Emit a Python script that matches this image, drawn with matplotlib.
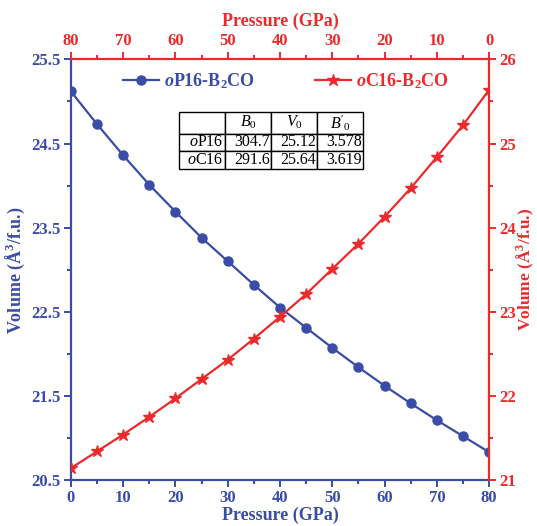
import matplotlib
matplotlib.use('Agg')
import matplotlib.pyplot as plt
from matplotlib.ticker import MultipleLocator

plt.rcParams['font.family'] = 'Liberation Serif'
plt.rcParams['font.weight'] = 'bold'
plt.rcParams['axes.labelweight'] = 'bold'
plt.rcParams['mathtext.fontset'] = 'custom'
plt.rcParams['mathtext.rm'] = 'Liberation Serif:normal'
plt.rcParams['mathtext.it'] = 'Liberation Serif:italic:normal'
plt.rcParams['mathtext.bf'] = 'Liberation Serif:bold'
plt.rcParams['mathtext.bfit'] = 'Liberation Serif:bold:italic'

# pressure points (GPa)
pressure = [0, 5, 10, 15, 20, 25, 30, 35, 40, 45, 50, 55, 60, 65, 70, 75, 80]
# volumes (A^3/f.u.)
vol_op16 = [25.12, 24.73, 24.36, 24.01, 23.69, 23.38, 23.10, 22.82, 22.55,
            22.31, 22.07, 21.84, 21.62, 21.41, 21.21, 21.02, 20.83]
vol_oc16 = [25.64, 25.22, 24.84, 24.47, 24.13, 23.81, 23.51, 23.21, 22.94,
            22.68, 22.43, 22.20, 21.97, 21.75, 21.54, 21.34, 21.14]

lab_op16 = r'$\mathbfit{o}$P16-B$_\mathbf{2}$CO'
lab_oc16 = r'$\mathbfit{o}$C16-B$_\mathbf{2}$CO'

# EOS fit table
tab_cols = ['', '$B_0$', '$V_0$', "$B'_0$"]
tab_rows = [r'$\mathit{o}$P16', r'$\mathit{o}$C16']
tab_b0 = ['304.7', '291.6']
tab_v0 = ['25.12', '25.64']
tab_b0p = ['3.578', '3.619']

blue = '#3A4CA6'
red = '#EC2A2C'

fig = plt.figure(figsize=(5.37, 5.26), dpi=100)
rect = [0.132, 0.0875, 0.779, 0.7995]
ax = fig.add_axes(rect)
ax2 = fig.add_axes(rect)
ax2.patch.set_visible(False)

l1, = ax.plot(pressure, vol_op16, '-o', color=blue, lw=1.6, ms=6.5, label=lab_op16)
l2, = ax2.plot(pressure, vol_oc16, '-*', color=red, lw=1.6, ms=9, label=lab_oc16)

# bottom / left (blue)
ax.set_xlim(0, 80)
ax.set_ylim(20.5, 25.5)
ax.xaxis.set_major_locator(MultipleLocator(10))
ax.xaxis.set_minor_locator(MultipleLocator(5))
ax.set_yticks([20.5, 21.5, 22.5, 23.5, 24.5, 25.5])
ax.set_yticks([21, 22, 23, 24, 25], minor=True)
ax.spines['top'].set_visible(False)
ax.spines['right'].set_visible(False)
for s in ['left', 'bottom']:
    ax.spines[s].set_color(blue)
    ax.spines[s].set_linewidth(1.6)
ax.tick_params(which='both', direction='out', colors=blue, width=1.4, labelsize=12, pad=2.5)
ax.tick_params(which='major', length=5)
ax.tick_params(which='minor', length=3)
ax.set_xlabel('Pressure (GPa)', color=blue, fontsize=13, labelpad=0)
ax.set_ylabel('Volume (Å$^\\mathbf{3}$/f.u.)', color=blue, fontsize=13, labelpad=3)

# top / right (red)
ax2.set_xlim(80, 0)
ax2.set_ylim(21, 26)
ax2.xaxis.tick_top()
ax2.xaxis.set_label_position('top')
ax2.yaxis.tick_right()
ax2.yaxis.set_label_position('right')
ax2.xaxis.set_major_locator(MultipleLocator(10))
ax2.xaxis.set_minor_locator(MultipleLocator(5))
ax2.yaxis.set_major_locator(MultipleLocator(1))
ax2.yaxis.set_minor_locator(MultipleLocator(0.5))
ax2.spines['left'].set_visible(False)
ax2.spines['bottom'].set_visible(False)
for s in ['top', 'right']:
    ax2.spines[s].set_color(red)
    ax2.spines[s].set_linewidth(1.6)
ax2.tick_params(which='both', direction='out', colors=red, width=1.4, labelsize=12, pad=2.5)
ax2.tick_params(which='major', length=5)
ax2.tick_params(which='minor', length=3)
ax2.set_xlabel('Pressure (GPa)', color=red, fontsize=13, labelpad=5)
ax2.set_ylabel('Volume (Å$^\\mathbf{3}$/f.u.)', color=red, fontsize=12.5,
               rotation=90, labelpad=-1)

leg = ax2.legend(handles=[l1, l2], loc='center', bbox_to_anchor=(0.514, 0.949),
                 ncol=2, frameon=False, fontsize=13, handlelength=2.0,
                 handletextpad=0.3, columnspacing=3.3, labelcolor='linecolor')

cells = [[tab_rows[i], tab_b0[i], tab_v0[i], tab_b0p[i]] for i in range(2)]
tbl = ax2.table(cellText=cells, colLabels=tab_cols, cellLoc='right', colLoc='center',
                bbox=[0.258, 0.739, 0.441, 0.1365])
tbl.auto_set_font_size(False)
tbl.set_fontsize(11.5)
for (r, c), cell in tbl.get_celld().items():
    cell.set_linewidth(1.0)
    cell.set_text_props(fontweight='normal')
    cell.PAD = 0.03
    if r == 0:
        cell.set_height(22)
    else:
        cell.set_height(18)

fig.savefig('out.png', dpi=100)
